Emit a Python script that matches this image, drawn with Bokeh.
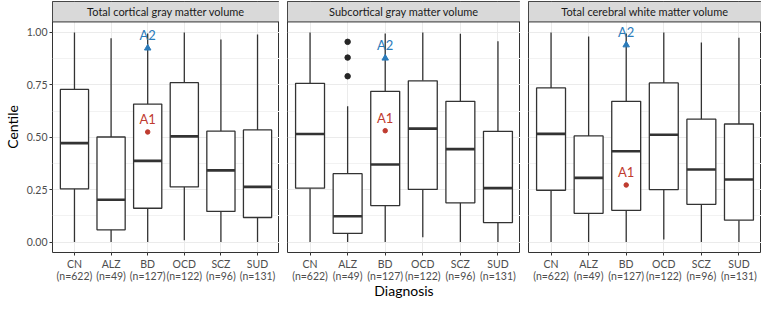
from bokeh.plotting import figure
from bokeh.layouts import row
from bokeh.models import Range1d, FixedTicker, PrintfTickFormatter
from bokeh.core.properties import value
from bokeh.embed import file_html
from bokeh.resources import INLINE

# ---------------- data ----------------
categories = ["CN", "ALZ", "BD", "OCD", "SCZ", "SUD"]
counts = [622, 49, 127, 122, 96, 131]
panel_titles = ["Total cortical gray matter volume",
                "Subcortical gray matter volume",
                "Total cerebral white matter volume"]
y_ticks = [0.0, 0.25, 0.50, 0.75, 1.00]
y_minor_ticks = [0.125, 0.375, 0.625, 0.875]

# Total cortical gray matter volume
cort_lower = [0.000, 0.000, 0.000, 0.009, 0.000, 0.000]
cort_q1 = [0.254, 0.058, 0.161, 0.263, 0.146, 0.117]
cort_median = [0.472, 0.202, 0.387, 0.504, 0.342, 0.263]
cort_q3 = [0.728, 0.501, 0.658, 0.760, 0.529, 0.535]
cort_upper = [1.000, 0.972, 0.995, 0.999, 0.966, 0.990]

# Subcortical gray matter volume
sub_lower = [0.000, 0.000, 0.000, 0.023, 0.000, 0.000]
sub_q1 = [0.257, 0.041, 0.174, 0.251, 0.187, 0.093]
sub_median = [0.515, 0.123, 0.370, 0.541, 0.443, 0.257]
sub_q3 = [0.757, 0.326, 0.719, 0.769, 0.671, 0.528]
sub_upper = [1.000, 0.648, 0.995, 1.000, 0.994, 0.958]
sub_outlier_cat = ["ALZ", "ALZ", "ALZ"]
sub_outlier_val = [0.791, 0.880, 0.955]

# Total cerebral white matter volume
wm_lower = [0.000, 0.000, 0.000, 0.012, 0.000, 0.000]
wm_q1 = [0.247, 0.137, 0.151, 0.250, 0.180, 0.104]
wm_median = [0.516, 0.306, 0.433, 0.512, 0.346, 0.298]
wm_q3 = [0.735, 0.506, 0.671, 0.759, 0.586, 0.563]
wm_upper = [1.000, 0.980, 0.995, 1.000, 0.952, 0.975]

# annotated individuals (at BD)
annot_category = "BD"
a1_values = [0.525, 0.531, 0.272]
a2_values = [0.925, 0.877, 0.940]

# ---------------- style / layout ----------------
FONT = "Lato"
DARK = "#333333"
GRID = "#EBEBEB"
RED = "#BF3B2F"
BLUE = "#2B7BBA"
PW = 233          # panel width px
GAP = 8
LEFT = 46
H = 301
TOP_B = 1
BOT_B = 40
STRIP_PX = 21
BOX_W = 0.77

xpos = {c: i + 1 for i, c in enumerate(categories)}
xs = [xpos[c] for c in categories]
tick_labels = {xpos[c]: f"{c}\n(n={n})" for c, n in zip(categories, counts)}

y0, y1 = -0.05, 1.05
# frame height estimated; strip height expressed in data units
FRAME_H = 258
panel_px = FRAME_H - STRIP_PX
y_top = y1 + STRIP_PX * (y1 - y0) / panel_px


def make_panel(k, lower, q1, med, q3, upper, out_cat=None, out_val=None):
    first = k == 0
    p = figure(width=(LEFT if first else GAP) + PW, height=H,
               x_range=Range1d(0.4, 6.6), y_range=Range1d(y0, y_top),
               output_backend="svg", toolbar_location=None,
               y_axis_location="left" if first else None,
               min_border_left=LEFT if first else GAP, min_border_right=0,
               min_border_top=TOP_B, min_border_bottom=BOT_B)
    p.background_fill_color = "white"
    p.border_fill_color = "white"
    p.outline_line_color = DARK
    p.outline_line_width = 1

    # grids
    p.xgrid.ticker = FixedTicker(ticks=xs)
    p.xgrid.grid_line_color = GRID
    p.ygrid.ticker = FixedTicker(ticks=y_ticks, minor_ticks=y_minor_ticks)
    p.ygrid.grid_line_color = GRID
    p.ygrid.minor_grid_line_color = "#F2F2F2"

    # x axis
    xa = p.xaxis[0]
    xa.ticker = FixedTicker(ticks=xs)
    xa.major_label_overrides = tick_labels
    xa.axis_line_color = None
    xa.major_tick_line_color = DARK
    xa.major_tick_out = 3
    xa.major_tick_in = 0
    xa.minor_tick_line_color = None
    xa.major_label_standoff = 2
    xa.major_label_text_font = FONT
    xa.major_label_text_font_size = "10.5px"
    xa.major_label_text_color = "#4D4D4D"
    xa.major_label_text_line_height = 1.0
    if k == 1:
        xa.axis_label = "Diagnosis"
        xa.axis_label_text_font = FONT
        xa.axis_label_text_font_size = "14px"
        xa.axis_label_text_font_style = "normal"
        xa.axis_label_text_color = "black"
        xa.axis_label_standoff = -3
        xa.axis_label_text_line_height = 0.7

    if first:
        ya = p.yaxis[0]
        ya.ticker = FixedTicker(ticks=y_ticks)
        ya.formatter = PrintfTickFormatter(format="%.2f")
        ya.axis_line_color = None
        ya.major_tick_line_color = DARK
        ya.major_tick_out = 3
        ya.major_tick_in = 0
        ya.minor_tick_line_color = None
        ya.major_label_standoff = 2
        ya.major_label_text_font = FONT
        ya.major_label_text_font_size = "10.5px"
        ya.major_label_text_color = "#4D4D4D"
        ya.axis_label = "Centile"
        ya.axis_label_text_font = FONT
        ya.axis_label_text_font_size = "14px"
        ya.axis_label_text_font_style = "normal"
        ya.axis_label_text_color = "black"
        ya.axis_label_standoff = 3

    # strip
    p.quad(left=[0.4], right=[6.6], bottom=[y1], top=[y_top],
           fill_color="#D9D9D9", line_color=DARK, line_width=1)
    p.text(x=[3.5], y=[(y1 + y_top) / 2], text=[panel_titles[k]],
           text_align="center", text_baseline="middle",
           text_font=value(FONT), text_font_size="11px", text_color="#1A1A1A")

    # boxplots
    lw = 1.3
    p.segment(x0=xs, y0=lower, x1=xs, y1=q1, line_color=DARK, line_width=lw)
    p.segment(x0=xs, y0=q3, x1=xs, y1=upper, line_color=DARK, line_width=lw)
    p.vbar(x=xs, width=BOX_W, bottom=q1, top=q3, fill_color="white",
           line_color=DARK, line_width=lw)
    p.segment(x0=[x - BOX_W / 2 for x in xs], y0=med,
              x1=[x + BOX_W / 2 for x in xs], y1=med,
              line_color=DARK, line_width=2.6)
    if out_cat:
        p.scatter(x=[xpos[c] for c in out_cat], y=out_val, size=5.5,
                  color="#262626")

    # annotations
    ax = xpos[annot_category]
    p.scatter(x=[ax], y=[a1_values[k]], size=4.5, color=RED)
    p.text(x=[ax], y=[a1_values[k]], text=["A1"], y_offset=-13,
           text_align="center", text_baseline="middle",
           text_font=value(FONT), text_font_size="13px", text_color=RED)
    p.scatter(x=[ax], y=[a2_values[k]], marker="triangle", size=6.5, color=BLUE)
    p.text(x=[ax], y=[a2_values[k]], text=["A2"], y_offset=-13,
           text_align="center", text_baseline="middle",
           text_font=value(FONT), text_font_size="13px", text_color=BLUE)
    return p


p1 = make_panel(0, cort_lower, cort_q1, cort_median, cort_q3, cort_upper)
p2 = make_panel(1, sub_lower, sub_q1, sub_median, sub_q3, sub_upper,
                sub_outlier_cat, sub_outlier_val)
p3 = make_panel(2, wm_lower, wm_q1, wm_median, wm_q3, wm_upper)

layout = row(p1, p2, p3, spacing=0)
open("out.html", "w").write(file_html(layout, INLINE))
